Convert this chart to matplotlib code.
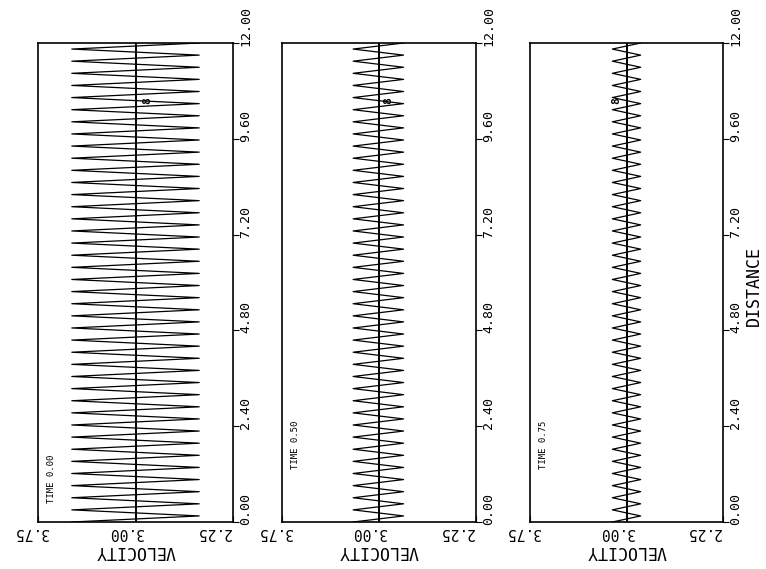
import numpy as np
import matplotlib
matplotlib.use("Agg")
from matplotlib import pyplot as plt
from matplotlib import transforms

# values
times = ["0.00", "0.50", "0.75"]
v_high = [3.49, 3.20, 3.11]      # left tips of zigzag
v_low = [2.51, 2.81, 2.89]       # right tips of zigzag
n_segments = 79                  # half periods between distance 0 and 12
v_ticks = [3.75, 3.00, 2.25]
d_ticks = [0.00, 2.40, 4.80, 7.20, 9.60, 12.00]
mark_d = [10.55, 10.55, 10.55]
mark_v = [2.91, 2.93, 3.08]
time_y = [0.04, 0.11, 0.11]

lefts = [38, 282, 530]
widths = [195, 194, 193]
v_shift = [-6, -9, -20]          # label offsets in px, as printed
W, H = 766, 569

fig = plt.figure(figsize=(W / 100, H / 100), dpi=100)
mono = "DejaVu Sans Mono"
px = lambda x, y: transforms.ScaledTranslation(x / 100, y / 100, fig.dpi_scale_trans)

for i in range(3):
    ax = fig.add_axes([lefts[i] / W, (569 - 522) / H, widths[i] / W, 479 / H])
    ax.set_xlim(3.75, 2.25)
    ax.set_ylim(0, 12)
    for s in ax.spines.values():
        s.set_linewidth(1.2)

    # zigzag wave
    d = np.linspace(0, 12, n_segments + 1)
    v = np.where(np.arange(n_segments + 1) % 2 == 0, v_high[i], v_low[i])
    ax.plot(v, d, color="black", lw=0.9)
    ax.axvline(3.00, color="black", lw=1.4)

    # ticks
    ax.set_xticks(v_ticks)
    ax.set_xticklabels([])
    ax.tick_params(axis="x", direction="in", length=4)
    ax.set_yticks(d_ticks)
    ax.set_yticklabels([])
    ax.yaxis.tick_right()
    ax.tick_params(axis="y", direction="out", length=4)

    bt = transforms.blended_transform_factory(ax.transData, ax.transAxes)
    for t, sh in zip(v_ticks, v_shift):
        ax.text(t, 0, f"{t:.2f}", transform=bt + px(sh, -3),
                rotation=180, rotation_mode="anchor", ha="center", va="bottom",
                family=mono, fontsize=10.5)
    ax.text(3.00, 0, "VELOCITY", transform=bt + px(0, -20),
            rotation=180, rotation_mode="anchor", ha="center", va="bottom",
            family=mono, fontsize=12)

    rt = transforms.blended_transform_factory(ax.transAxes, ax.transData)
    for t in d_ticks:
        ax.text(1, t, f"{t:.2f}", transform=rt + px(6, -3),
                rotation=90, rotation_mode="anchor", ha="left", va="top",
                family=mono, fontsize=9.5)

    ax.text(0.07, time_y[i], "TIME " + times[i], transform=ax.transAxes,
            rotation=90, ha="center", va="bottom", family=mono, fontsize=6.5)
    ax.text(mark_v[i], mark_d[i], "8", rotation=90, ha="center", va="center",
            family=mono, fontsize=8, fontweight="bold")

    if i == 2:
        ax.text(1, 5.9, "DISTANCE", transform=rt + px(22, 0),
                rotation=90, rotation_mode="anchor", ha="center", va="top",
                family=mono, fontsize=12)

fig.savefig("out.png", dpi=100)
